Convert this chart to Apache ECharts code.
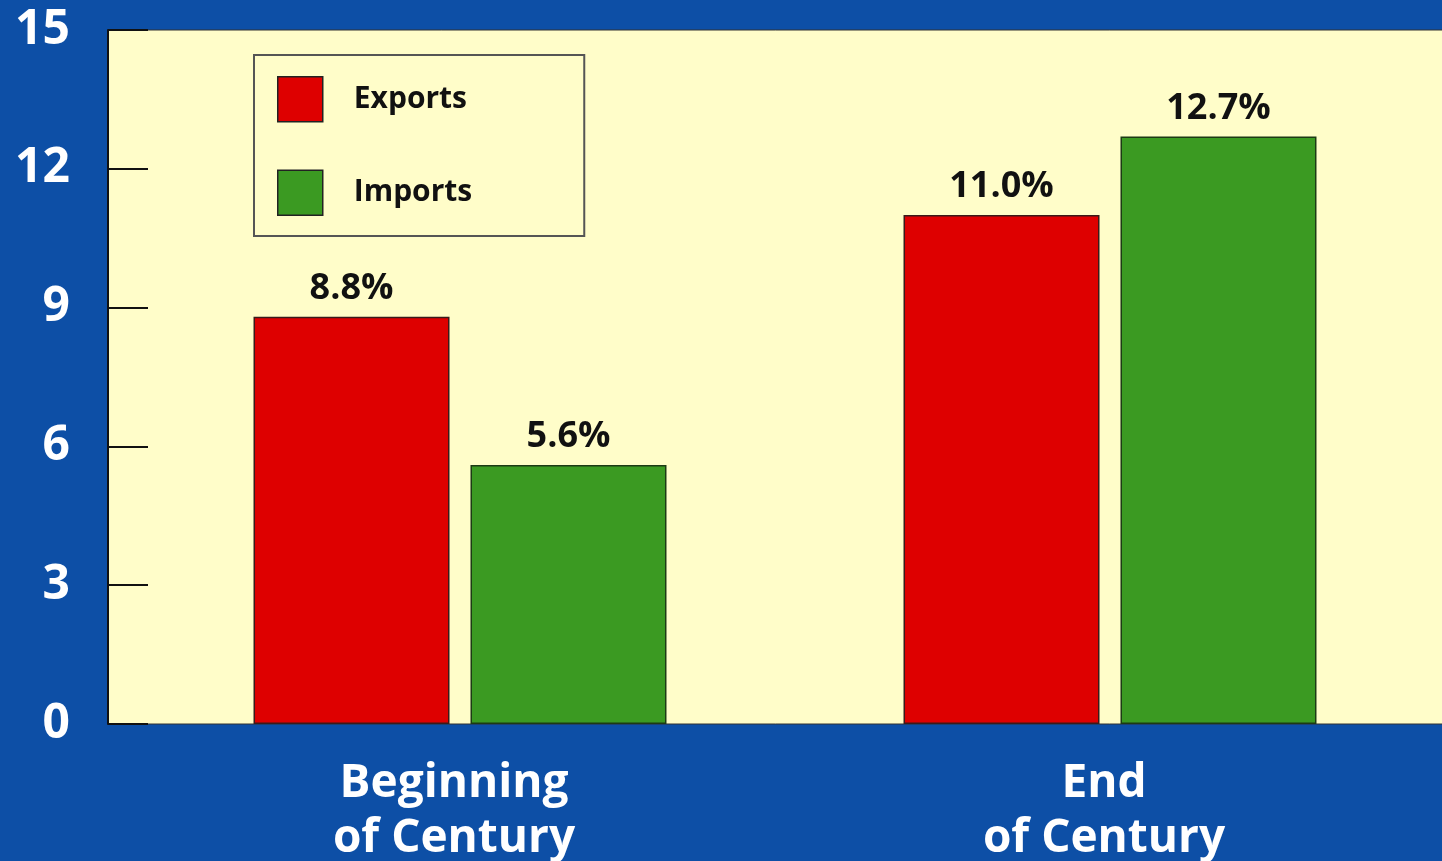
<!DOCTYPE html>
<html>
<head>
<meta charset="utf-8">
<script src="https://cdn.jsdelivr.net/npm/echarts@6/dist/echarts.min.js"></script>
<style>
  html, body { margin: 0; padding: 0; background: #0D4FA6; }
  #chart { width: 1442px; height: 861px; }
</style>
</head>
<body>
<div id="chart"></div>
<script>
// Trade as a share of output, early vs. late century
const categories = ['Beginning\nof Century', 'End\nof Century'];
const exportsPct = [8.8, 11.0];
const importsPct = [5.6, 12.7];
const yMin = 0, yMax = 15, yStep = 3;

const FONT = '"Open Sans"';
const RED = '#DE0000';
const GREEN = '#3B9A22';

const chart = echarts.init(document.getElementById('chart'), null, { renderer: 'canvas' });

const valueLabel = {
  show: true,
  position: 'top',
  distance: 10,
  color: '#111',
  fontFamily: FONT,
  fontWeight: 'bold',
  fontSize: 36,
  formatter: p => p.value.toFixed(1) + '%'
};

chart.setOption({
  backgroundColor: '#0D4FA6',
  animation: false,
  grid: [
    // plot panel carrying the value axis
    { left: 108, top: 30, bottom: 137, right: -20, show: true, outerBoundsMode: 'none',
      backgroundColor: '#FFFDC9', borderColor: '#333', borderWidth: 1 },
    // bar layout area
    { left: 135, top: 30, bottom: 137, right: 7, outerBoundsMode: 'none' }
  ],
  legend: {
    left: 254, top: 55,
    orient: 'vertical',
    itemWidth: 45, itemHeight: 45, itemGap: 47,
    padding: [21, 112, 20, 23],
    backgroundColor: '#FFFDC9',
    borderColor: '#555', borderWidth: 2,
    icon: 'rect',
    itemStyle: { borderColor: '#222', borderWidth: 1.5 },
    textStyle: { color: '#111', fontFamily: FONT, fontWeight: 'bold', fontSize: 30,
                 padding: [0, 0, 0, 26] },
    data: ['Exports', 'Imports']
  },
  xAxis: [
    { gridIndex: 0, type: 'value', show: false, min: 0, max: 1 },
    { gridIndex: 1, type: 'category', data: categories,
      axisLine: { show: false }, axisTick: { show: false },
      axisLabel: { color: '#FFFFFF', fontFamily: FONT, fontWeight: 'bold',
                   fontSize: 46, lineHeight: 55, margin: 32,
                   padding: [0, 12, 0, 0] } }
  ],
  yAxis: [
    { gridIndex: 0, type: 'value', min: yMin, max: yMax, interval: yStep,
      axisLine: { show: true, lineStyle: { color: '#111', width: 2 } },
      axisTick: { show: true, inside: true, length: 40, lineStyle: { color: '#111', width: 2 } },
      splitLine: { show: false },
      axisLabel: { color: '#FFFFFF', fontFamily: FONT, fontWeight: 'bold',
                   fontSize: 48, margin: 38 } },
    { gridIndex: 1, type: 'value', min: yMin, max: yMax, interval: yStep, show: false }
  ],
  series: [
    { name: 'Exports', type: 'bar', xAxisIndex: 1, yAxisIndex: 1,
      data: exportsPct, barWidth: 196, barGap: '10.7%',
      itemStyle: { color: RED, borderColor: '#3a1a1a', borderWidth: 1.5 },
      label: valueLabel },
    { name: 'Imports', type: 'bar', xAxisIndex: 1, yAxisIndex: 1,
      data: importsPct, barWidth: 196, barGap: '10.7%',
      itemStyle: { color: GREEN, borderColor: '#1c3a14', borderWidth: 1.5 },
      label: valueLabel }
  ]
});
</script>
</body>
</html>
